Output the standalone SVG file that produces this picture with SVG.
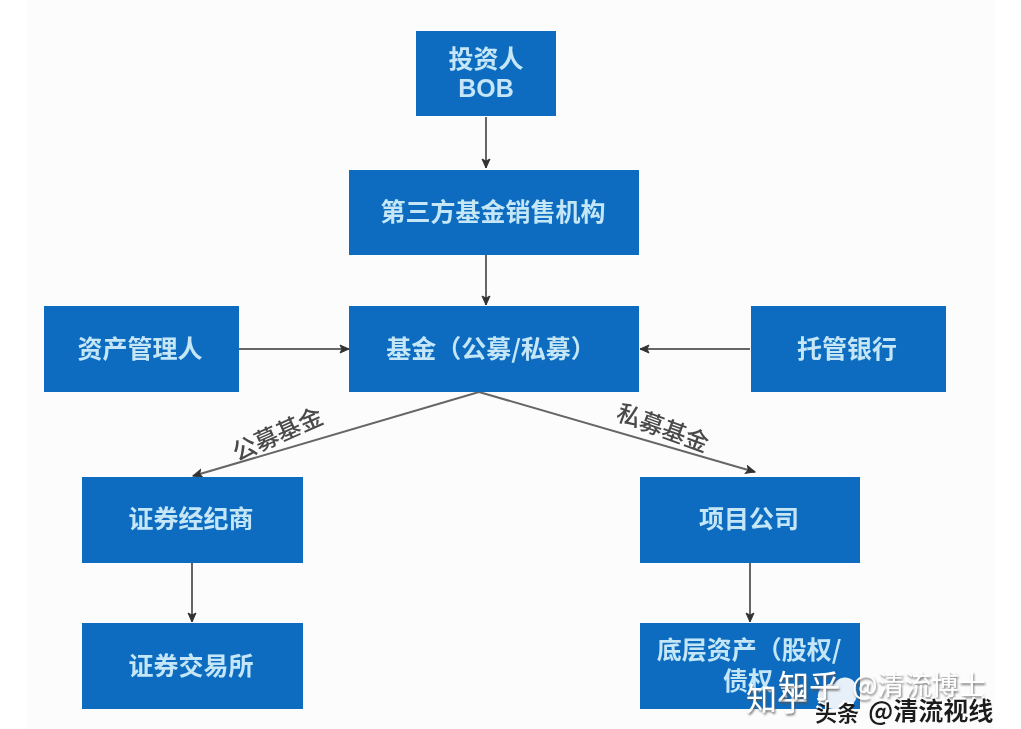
<svg xmlns="http://www.w3.org/2000/svg" width="1021" height="729" viewBox="0 0 1021 729">
<style>
.n{fill:#0a6cc0}
.t{font-family:"Noto Sans CJK SC","Liberation Sans",sans-serif;font-size:25px;font-weight:700;fill:#c4e6f6;text-anchor:middle}
.e{font-family:"Liberation Sans",sans-serif;font-size:25px;font-weight:700;fill:#c4e6f6;text-anchor:middle}
.l{font-family:"Noto Sans CJK SC",sans-serif;font-size:24px;fill:#4a4a4a;text-anchor:middle;font-weight:500}
.c{fill:none;stroke:#666;stroke-width:2;marker-end:url(#a)}
.w{font-family:"Noto Sans CJK SC",sans-serif;fill:#fff}
.d{font-family:"Noto Sans CJK SC",sans-serif;fill:#1c1c1c;font-weight:700}
</style>
<defs>
<marker id="a" markerUnits="userSpaceOnUse" markerWidth="12" markerHeight="12" refX="10" refY="5" orient="auto"><path d="M1 1L10 5L1 9L3 5Z" fill="#333" stroke="#333" stroke-width="1"/></marker>
<filter id="b" x="-5%" y="-5%" width="110%" height="110%"><feGaussianBlur stdDeviation="0.7"/></filter>
<filter id="s" x="-10%" y="-10%" width="120%" height="130%"><feDropShadow dx="1" dy="2" stdDeviation="0.8" flood-color="#555" flood-opacity=".8"/></filter>
<filter id="h" x="-10%" y="-10%" width="120%" height="130%"><feDropShadow dx="-1" dy="-2" stdDeviation="0.4" flood-color="#fff"/></filter>
</defs>
<rect width="1021" height="729" fill="#fff"/>
<rect x="26" y="0" width="968" height="729" fill="#fcfcfc"/>
<g filter="url(#b)">
<g id="connectors">
<path class="c" d="M486 117V168"/>
<path class="c" d="M486 255V305"/>
<path class="c" d="M239 349H349"/>
<path class="c" d="M750 349H640"/>
<path class="c" d="M479 392L193 476"/>
<path class="c" d="M479 392L755 472"/>
<path class="c" d="M192 563V622"/>
<path class="c" d="M750 563V622"/>
</g>
<g id="n1"><rect class="n" x="416" y="31" width="140" height="85"/><text class="t" x="486" y="68">投资人</text><text class="e" x="486" y="97">BOB</text></g>
<g id="n2"><rect class="n" x="349" y="170" width="290" height="85"/><text class="t" x="493" y="221">第三方基金销售机构</text></g>
<g id="n3"><rect class="n" x="349" y="306" width="290" height="86"/><text class="t" x="491" y="358">基金（公募/私募）</text></g>
<g id="n4"><rect class="n" x="44" y="306" width="195" height="86"/><text class="t" x="140" y="358">资产管理人</text></g>
<g id="n5"><rect class="n" x="751" y="306" width="195" height="86"/><text class="t" x="847" y="358">托管银行</text></g>
<g id="n6"><rect class="n" x="82" y="477" width="221" height="86"/><text class="t" x="191" y="528">证券经纪商</text></g>
<g id="n7"><rect class="n" x="640" y="477" width="220" height="86"/><text class="t" x="749" y="528">项目公司</text></g>
<g id="n8"><rect class="n" x="82" y="623" width="221" height="86"/><text class="t" x="191" y="675">证券交易所</text></g>
<g id="n9"><rect class="n" x="640" y="623" width="220" height="86"/><text class="t" x="749" y="659">底层资产（股权/</text><text class="t" x="748" y="690">债权</text></g>
<text class="l" transform="translate(281 442) rotate(-24)">公募基金</text>
<text class="l" transform="translate(660 436) rotate(20)">私募基金</text>
</g>
<g id="watermark">
<path d="M822 705C812 695 822 682 834 684C842 672 858 678 856 690C862 704 840 716 822 705Z" fill="#fff" opacity=".9"/>
<g filter="url(#s)"><text class="w" x="746" y="710" font-size="31">知乎</text></g>
<g filter="url(#s)"><text class="w" x="778" y="697" font-size="31">知乎</text></g>
<g filter="url(#s)"><text class="w" x="852" y="695" font-size="27">@清流博士</text></g>
<g filter="url(#h)"><text class="d" x="815" y="721" font-size="22">头条</text></g>
<g filter="url(#h)"><text class="d" x="868" y="720" font-size="25">@清流视线</text></g>
</g>
</svg>
